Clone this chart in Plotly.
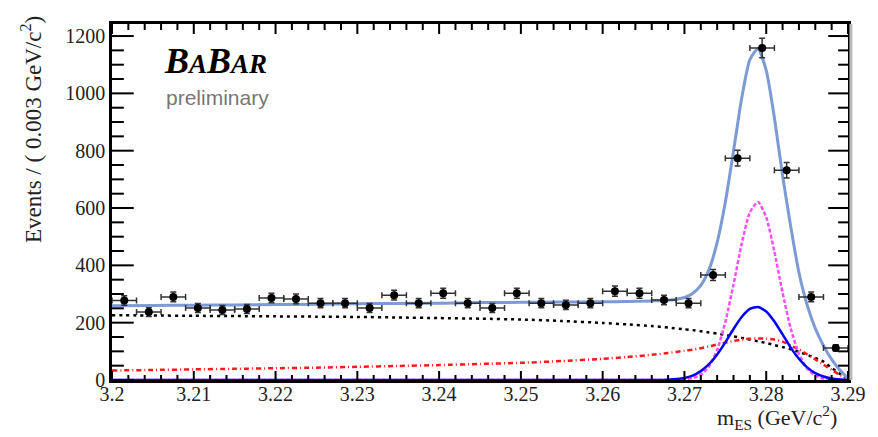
import numpy as np
import plotly.graph_objects as go

# ---- data: m_ES histogram (0.003 GeV/c^2 bins) ----
bin_centers = [3.2015, 3.2045, 3.2075, 3.2105, 3.2135, 3.2165, 3.2195, 3.2225,
               3.2255, 3.2285, 3.2315, 3.2345, 3.2375, 3.2405, 3.2435, 3.2465,
               3.2495, 3.2525, 3.2555, 3.2585, 3.2615, 3.2645, 3.2675, 3.2705,
               3.2735, 3.2765, 3.2795, 3.2825, 3.2855, 3.2885]
counts = [277, 237, 290, 251, 244, 248, 286, 283, 268, 268, 251, 296, 268, 303,
          268, 251, 303, 268, 262, 268, 310, 303, 279, 268, 366, 774, 1158, 732,
          290, 112]
bin_half_width = 0.0015

# ---- fit curves sampled on a common grid ----
m_grid = [3.200, 3.205, 3.210, 3.215, 3.220, 3.225, 3.230, 3.235, 3.240, 3.245,
          3.250, 3.255, 3.260, 3.263, 3.266, 3.268, 3.270, 3.271, 3.272, 3.273,
          3.274, 3.275, 3.276, 3.277, 3.278, 3.279, 3.280, 3.281, 3.282, 3.283,
          3.284, 3.285, 3.286, 3.287, 3.288, 3.289, 3.290]
combinatorial = [226, 225, 224, 223, 222, 221, 220, 218, 216, 214,
                 211, 206, 199, 194, 188, 183, 177, 174, 170, 166,
                 162, 157, 152, 147, 141, 135, 129, 122, 115, 107,
                 98, 88, 77, 64, 42, 22, 0]
peaking_bkg = [33, 35, 37, 39, 41, 43, 46, 49, 52, 56,
               60, 66, 74, 80, 88, 94, 102, 106, 111, 117,
               124, 130, 136, 141, 144, 145, 144, 141, 134, 120,
               106, 90, 72, 54, 36, 18, 5]
signal_a = [0, 0, 0, 0, 0, 0, 0, 0, 0, 0,
            0, 0, 0, 0, 0, 1, 7, 15, 31, 55,
            89, 131, 178, 220, 248, 255, 239, 204, 159, 113,
            74, 44, 24, 12, 5, 2, 1]
signal_b = [0, 0, 0, 0, 0, 0, 0, 0, 0, 0,
            0, 0, 0, 0, 0, 0, 2, 7, 18, 47,
            105, 202, 333, 475, 585, 621, 568, 448, 305, 179,
            91, 40, 15, 5, 2, 0, 0]
total_fit = [259, 260, 261, 262, 263, 264, 266, 267, 268, 270,
             271, 272, 273, 274, 276, 278, 288, 302, 330, 385,
             480, 620, 799, 983, 1118, 1156, 1080, 915, 713, 535,
             375, 262, 180, 120, 72, 35, 5]

X_RANGE = [3.2, 3.29]
Y_RANGE = [0, 1242]
x_tick_vals = [3.20, 3.21, 3.22, 3.23, 3.24, 3.25, 3.26, 3.27, 3.28, 3.29]
x_tick_text = ["3.2", "3.21", "3.22", "3.23", "3.24", "3.25", "3.26", "3.27", "3.28", "3.29"]
y_tick_vals = [0, 200, 400, 600, 800, 1000, 1200]

W, H = 878, 437
L, R, T, B = 112, 21, 24, 57
SERIF = "Liberation Serif, Times New Roman, serif"
pw, ph = W - L - R, H - T - B
x_per_px = (X_RANGE[1] - X_RANGE[0]) / pw
y_per_px = (Y_RANGE[1] - Y_RANGE[0]) / ph

fig = go.Figure()

def curve(y, color, width, dash):
    fig.add_trace(go.Scatter(
        x=m_grid, y=y, mode="lines",
        line=dict(color=color, width=width, dash=dash, shape="spline", smoothing=0.6),
        hoverinfo="skip", showlegend=False, cliponaxis=True))

curve(combinatorial, "#000000", 2.5, "3px,4px")
curve(peaking_bkg, "#ff1a1a", 2.5, "5px,3px,1px,3px")
curve(signal_b, "#ff4dff", 2.5, "4px,2px")
curve(signal_a, "#0000ff", 2.5, "solid")
curve(total_fit, "#7b9ad6", 3, "solid")

fig.add_trace(go.Scatter(
    x=bin_centers, y=counts, mode="markers",
    marker=dict(color="black", size=8, symbol="circle"),
    error_x=dict(type="constant", value=bin_half_width, color="#333333",
                 thickness=1.5, width=3),
    error_y=dict(type="data", array=np.sqrt(counts), color="#333333",
                 thickness=1.5, width=3),
    hoverinfo="skip", showlegend=False))

# ROOT-style inward ticks on all four sides of the frame, drawn as line segments
tx, ty = [], []
for k in range(46):
    v = round(3.2 + 0.002 * k, 4)
    major = (k % 5 == 0)
    lb = (9 if major else 5) * y_per_px
    lt = (10 if major else 6) * y_per_px
    tx += [v, v, None, v, v, None]
    ty += [Y_RANGE[0], Y_RANGE[0] + lb, None, Y_RANGE[1], Y_RANGE[1] - lt, None]
for k in range(25):
    v = 50 * k
    major = (k % 4 == 0)
    ll = (22 if major else 12) * x_per_px
    lr = (20 if major else 10) * x_per_px
    tx += [X_RANGE[0], X_RANGE[0] + ll, None, X_RANGE[1], X_RANGE[1] - lr, None]
    ty += [v, v, None, v, v, None]
fig.add_trace(go.Scatter(x=tx, y=ty, mode="lines", line=dict(color="black", width=2),
                         hoverinfo="skip", showlegend=False, connectgaps=False))

tick_font = dict(family=SERIF, size=20, color="#222222")

fig.update_layout(
    width=W, height=H,
    margin=dict(l=L, r=R, t=T, b=B),
    paper_bgcolor="white", plot_bgcolor="white",
    showlegend=False,
    xaxis=dict(range=X_RANGE, showgrid=False, zeroline=False,
               showline=True, linecolor="black", linewidth=2.5, mirror=True,
               ticks="", tickvals=x_tick_vals, ticktext=x_tick_text,
               tickfont=tick_font, ticklabelstandoff=-6),
    yaxis=dict(range=Y_RANGE, showgrid=False, zeroline=False,
               showline=True, linecolor="black", linewidth=2.5, mirror=True,
               ticks="", tickvals=y_tick_vals, tickfont=tick_font),
)

# soft grey edge just outside the right-hand frame line
fig.add_shape(type="line", xref="paper", yref="paper",
              x0=1 + 3 / pw, x1=1 + 3 / pw, y0=0, y1=1,
              line=dict(color="#bbbbbb", width=3), layer="above")

def px(x):
    return (x - L) / pw
def py(y):
    return (H - B - y) / ph

annotations = [
    dict(text="<b><i>B<span style='font-size:27px'>A</span>B<span style='font-size:27px'>AR</span></i></b>",
         x=px(217), y=py(61), xref="paper", yref="paper", showarrow=False,
         font=dict(family=SERIF, size=36, color="black"), xanchor="center", yanchor="middle"),
    dict(text="preliminary", x=px(219), y=py(97), xref="paper", yref="paper",
         showarrow=False, font=dict(family="Liberation Sans, Arial, sans-serif", size=21, color="#777777"),
         xanchor="center", yanchor="middle"),
    dict(text="Events / ( 0.003 GeV/c<sup>2</sup>)", x=px(30), y=py(129),
         xref="paper", yref="paper", showarrow=False, textangle=-90,
         font=dict(family=SERIF, size=23, color="#222222"),
         xanchor="center", yanchor="middle"),
    dict(text="m<sub>ES</sub> (GeV/c<sup>2</sup>)", x=px(848), y=py(417),
         xref="paper", yref="paper", showarrow=False,
         font=dict(family=SERIF, size=22, color="#222222"),
         xanchor="right", yanchor="middle"),
]
fig.update_layout(annotations=annotations)

fig.write_html("out.html")
